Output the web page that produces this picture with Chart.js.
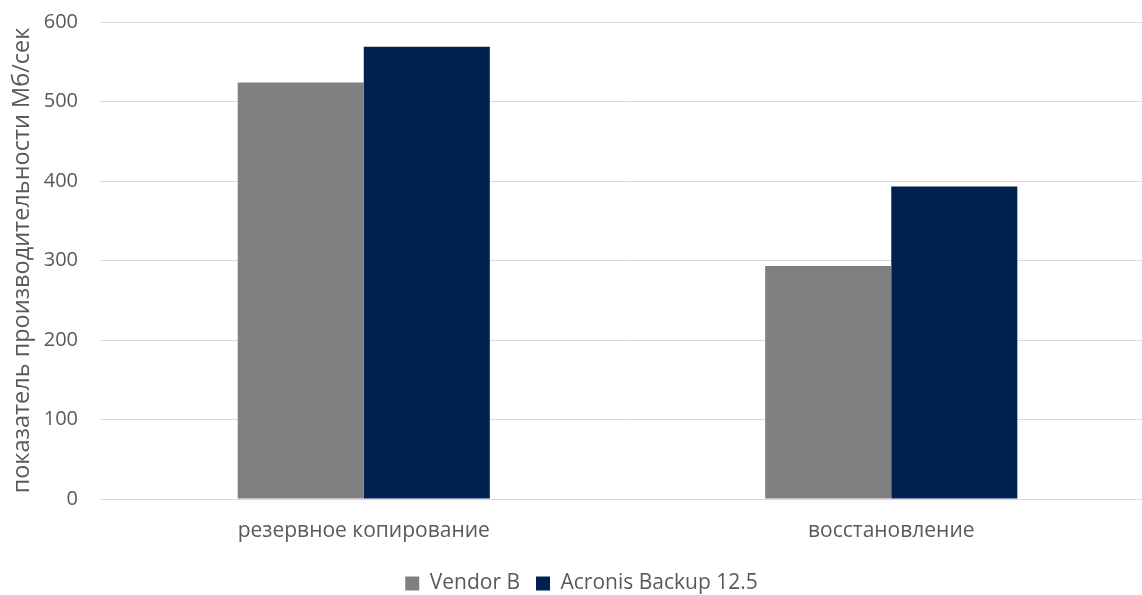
<!DOCTYPE html>
<html><head><meta charset="utf-8">
<script src="https://cdn.jsdelivr.net/npm/chart.js@4/dist/chart.umd.min.js"></script>
<style>html,body{margin:0;padding:0;overflow:hidden;background:#fff}#wrap{width:1155px;height:595px;position:relative}</style>
</head><body><div id="wrap"><canvas id="c"></canvas></div>
<script>
const categories = ["резервное копирование", "восстановление"];
const vendorB = [524, 293];
const acronis = [569, 393];
const seriesNames = ["Vendor B", "Acronis Backup 12.5"];
const yTicks = [0, 100, 200, 300, 400, 500, 600];
const yTitle = "показатель производительности Мб/сек";

const FONT = "'Open Sans', 'Noto Sans', sans-serif";
const TXT = "#595959";
new Chart(document.getElementById('c'), {
  type: 'bar',
  data: {
    labels: categories,
    datasets: [
      {label: seriesNames[0], data: vendorB, backgroundColor: '#808080'},
      {label: seriesNames[1], data: acronis, backgroundColor: '#00204d'}
    ]
  },
  options: {
    responsive: true, maintainAspectRatio: false, animation: false,
    layout: {padding: {top: 22, right: 0, left: 8, bottom: -9}},
    datasets: {bar: {categoryPercentage: 0.478, barPercentage: 1.0}},
    plugins: {
      legend: {position: 'bottom', labels: {color: TXT, font: {family: FONT, size: 21}, boxWidth: 14, boxHeight: 14, padding: 16}},
      tooltip: {enabled: false}
    },
    scales: {
      x: {
        afterFit: s => { s.height = 58; },
        grid: {display: false, drawTicks: false},
        border: {display: true, color: '#d9d9d9'},
        ticks: {color: TXT, font: {family: FONT, size: 21}, padding: 19}
      },
      y: {
        min: 0, max: 600,
        afterBuildTicks: s => { s.ticks = yTicks.map(v => ({value: v})); },
        afterFit: s => { s.width = 92; s.paddingTop = 0; s.paddingBottom = 0; },
        grid: {color: '#d9d9d9', drawTicks: false},
        border: {display: false},
        ticks: {color: TXT, font: {family: FONT, size: 20}, padding: 22},
        title: {display: true, text: yTitle, color: TXT, font: {family: FONT, size: 23.5}, padding: {top: 0, bottom: 0}}
      }
    }
  }
});
</script></body></html>
